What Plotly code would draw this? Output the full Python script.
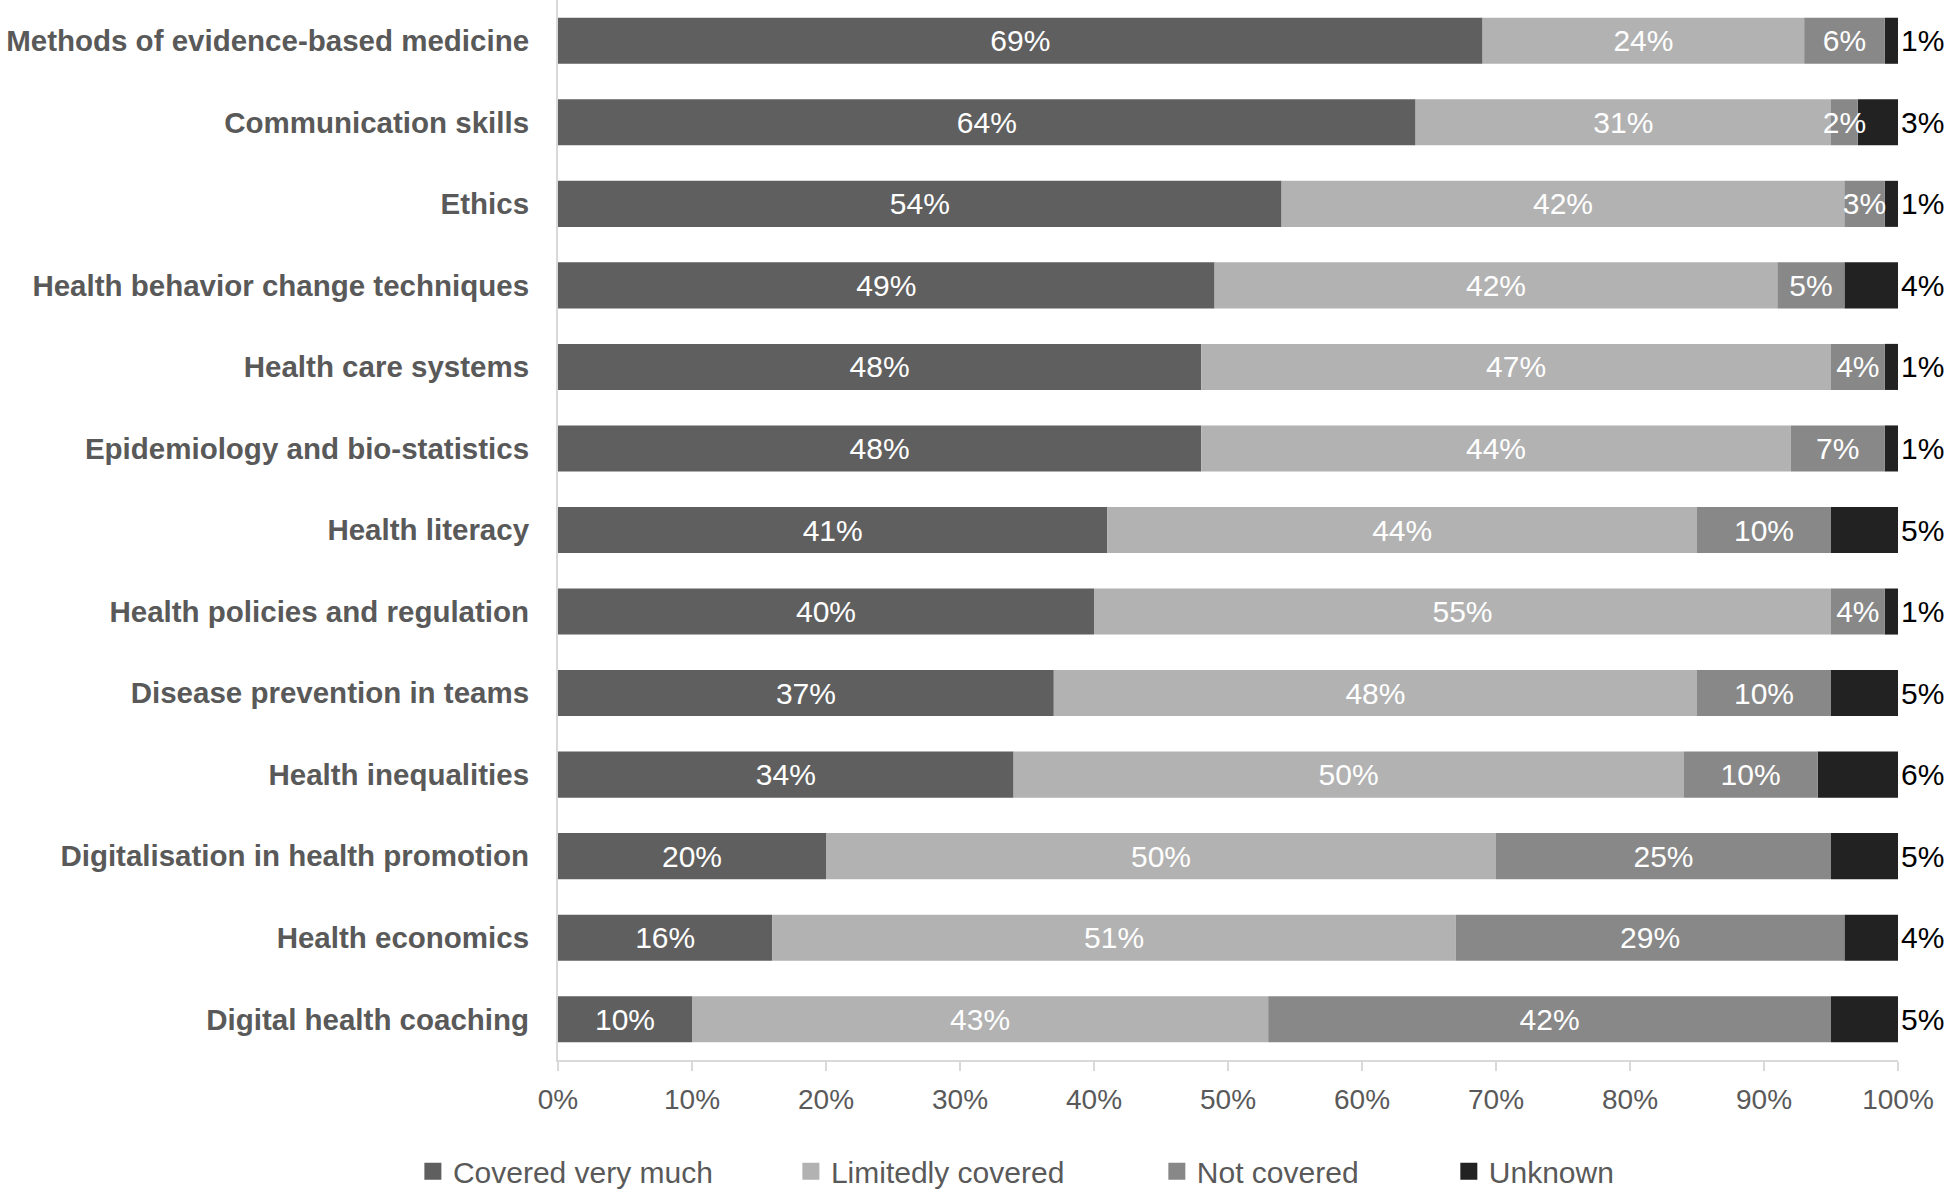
import numpy as np
import plotly.graph_objects as go

categories = [
    "Methods of evidence-based medicine",
    "Communication skills",
    "Ethics",
    "Health behavior change techniques",
    "Health care systems",
    "Epidemiology and bio-statistics",
    "Health literacy",
    "Health policies and regulation",
    "Disease prevention in teams",
    "Health inequalities",
    "Digitalisation in health promotion",
    "Health economics",
    "Digital health coaching",
]
covered_very_much = [69, 64, 54, 49, 48, 48, 41, 40, 37, 34, 20, 16, 10]
limitedly_covered = [24, 31, 42, 42, 47, 44, 44, 55, 48, 50, 50, 51, 43]
not_covered = [6, 2, 3, 5, 4, 7, 10, 4, 10, 10, 25, 29, 42]
unknown = [1, 3, 1, 4, 1, 1, 5, 1, 5, 6, 5, 4, 5]
tick_values = [0, 10, 20, 30, 40, 50, 60, 70, 80, 90, 100]

FONT = "Liberation Sans, Arial, sans-serif"
LABEL_GREY = "#595959"

series = [
    ("Covered very much", covered_very_much, "#5f5f5f", "legend"),
    ("Limitedly covered", limitedly_covered, "#b2b2b2", "legend2"),
    ("Not covered", not_covered, "#888888", "legend3"),
    ("Unknown", unknown, "#222222", "legend4"),
]

# stacking bases computed from the data
vals_arr = np.array([s[1] for s in series], dtype=float)
bases = np.vstack([np.zeros(vals_arr.shape[1]), np.cumsum(vals_arr, axis=0)[:-1]])

fig = go.Figure()

# draw the Unknown segment first so the white labels of narrow
# "Not covered" segments can overlap it (as in the original)
draw_order = [3, 0, 1, 2]
for i in draw_order:
    name, vals, color, leg = series[i]
    is_last = name == "Unknown"
    fig.add_trace(go.Bar(
        name=name,
        y=categories,
        x=vals,
        base=bases[i],
        orientation="h",
        marker=dict(color=color, line=dict(width=0)),
        text=[f"{v}%" for v in vals],
        textposition="outside" if is_last else "inside",
        textangle=0,
        constraintext="none",
        insidetextanchor="middle",
        insidetextfont=dict(color="white", size=30, family=FONT),
        outsidetextfont=dict(color="#000000", size=30, family=FONT),
        cliponaxis=False,
        showlegend=False,
        hoverinfo="skip",
    ))

# legend entries (larger swatches)
for name, vals, color, leg in series:
    fig.add_trace(go.Bar(
        name=name,
        y=[None],
        x=[None],
        orientation="h",
        marker=dict(color=color, line=dict(color=color, width=5)),
        legend=leg,
        showlegend=True,
        hoverinfo="skip",
    ))

leg_common = dict(
    orientation="h",
    yanchor="middle",
    y=-0.105,
    xanchor="left",
    font=dict(size=30, color=LABEL_GREY, family=FONT),
    bgcolor="rgba(0,0,0,0)",
    borderwidth=0,
)

fig.update_layout(
    width=1945,
    height=1192,
    autosize=False,
    barmode="overlay",
    bargap=0.435,
    plot_bgcolor="white",
    paper_bgcolor="white",
    margin=dict(l=558, r=47, t=0, b=132, autoexpand=False),
    font=dict(family=FONT, color=LABEL_GREY),
    showlegend=True,
    legend=dict(leg_common, x=-0.1083),
    legend2=dict(leg_common, x=0.1738),
    legend3=dict(leg_common, x=0.4469),
    legend4=dict(leg_common, x=0.6648),
    xaxis=dict(
        range=[0, 100],
        tickvals=tick_values,
        ticktext=[f"{t}%" for t in tick_values],
        showgrid=False,
        zeroline=False,
        showline=True,
        linecolor="#d9d9d9",
        linewidth=2,
        ticks="outside",
        ticklen=9,
        tickwidth=2,
        tickcolor="#d9d9d9",
        ticklabelstandoff=4,
        tickfont=dict(size=28, color=LABEL_GREY, family=FONT),
        fixedrange=True,
    ),
    yaxis=dict(
        categoryorder="array",
        categoryarray=categories,
        range=[12.5, -0.5],
        showgrid=False,
        zeroline=False,
        showline=True,
        linecolor="#d9d9d9",
        linewidth=2,
        ticks="",
        ticklabelstandoff=21,
        tickfont=dict(size=29.5, color=LABEL_GREY, family=FONT, weight="bold"),
        fixedrange=True,
    ),
)

fig.write_html(
    "out.html",
    config={"displayModeBar": False},
    post_script="document.body.style.margin='0';document.body.style.overflow='hidden';",
)
